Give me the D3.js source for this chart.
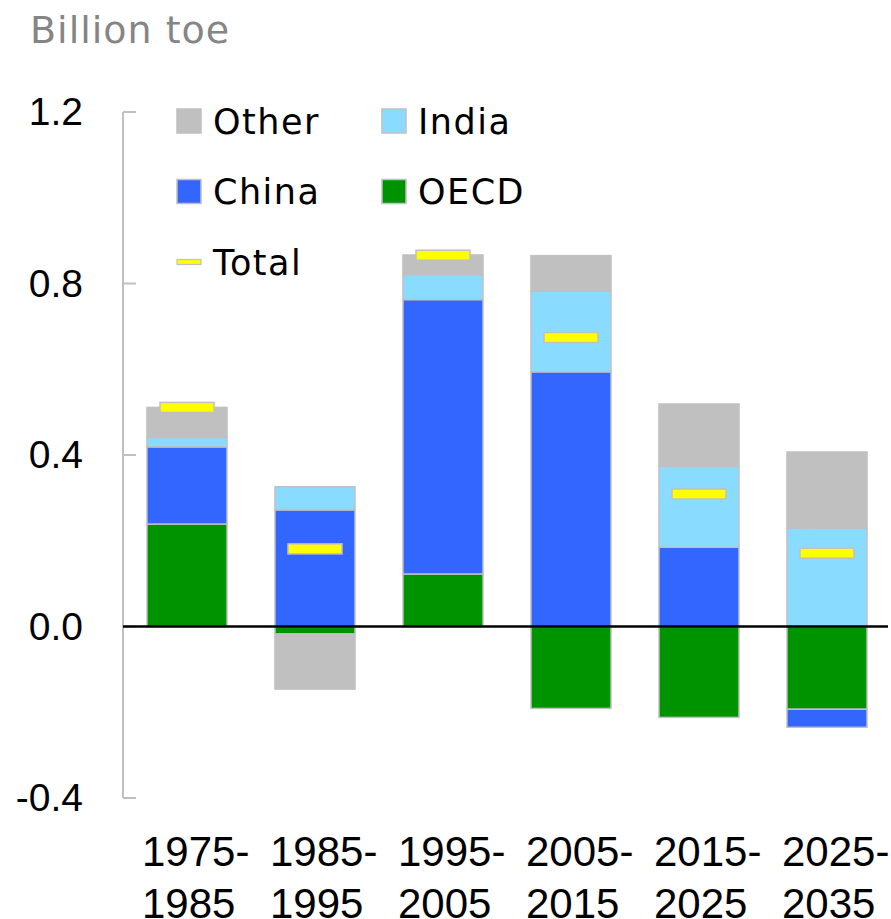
<!DOCTYPE html>
<html>
<head>
<meta charset="utf-8">
<script src="https://cdn.jsdelivr.net/npm/d3@7"></script>
<style>
body { margin: 0; background: #fff; }
</style>
</head>
<body>
<div id="chart"></div>
<script>
var width = 891;
var height = 919;

// data (billion toe)
var periods = ["1975-1985", "1985-1995", "1995-2005", "2005-2015", "2015-2025", "2025-2035"];
var oecd  = [0.239, -0.0175, 0.1225, -0.191, -0.212, -0.193];
var china = [0.180, 0.272, 0.640, 0.594, 0.185, -0.042];
var india = [0.022, 0.054, 0.058, 0.1885, 0.189, 0.230];
var other = [0.070, -0.1285, 0.046, 0.0825, 0.145, 0.177];
var total = [0.511, 0.181, 0.866, 0.674, 0.309, 0.171];
var yTicks = [-0.4, 0, 0.4, 0.8, 1.2];

var keys = ["OECD", "China", "India", "Other"];
var colors = {OECD: "#009300", China: "#3366ff", India: "#89dcff", Other: "#c0c0c0"};

var rows = periods.map(function(p, i) {
	return {period: p, OECD: oecd[i], China: china[i], India: india[i], Other: other[i], Total: total[i]};
});

var svg = d3.select("#chart").append("svg")
	.attr("width", width)
	.attr("height", height);

var x = d3.scaleBand()
	.domain(periods)
	.range([123, 891])
	.paddingInner(0.375)
	.paddingOuter(0.1875);

var y = d3.scaleLinear()
	.domain([-0.4, 1.2])
	.range([798, 112]);

// unit title
svg.append("text")
	.attr("x", 30)
	.attr("y", 43)
	.style("font-family", "DejaVu Sans")
	.style("font-size", "38px")
	.style("letter-spacing", "1px")
	.style("fill", "#858585")
	.text("Billion toe");

// y axis: grey line with inward ticks
svg.append("line")
	.attr("x1", 123).attr("x2", 123)
	.attr("y1", y(1.2)).attr("y2", y(-0.4))
	.attr("stroke", "#c0c0c0").attr("stroke-width", 2);

svg.selectAll(".ytick")
	.data(yTicks)
	.enter().append("line")
	.attr("class", "ytick")
	.attr("x1", 123).attr("x2", 136)
	.attr("y1", function(d) { return y(d); })
	.attr("y2", function(d) { return y(d); })
	.attr("stroke", "#c0c0c0").attr("stroke-width", 2);

svg.selectAll(".ylabel")
	.data(yTicks)
	.enter().append("text")
	.attr("class", "ylabel")
	.attr("x", 83)
	.attr("y", function(d) { return y(d) + 13; })
	.attr("text-anchor", "end")
	.style("font-family", "Liberation Sans, Arial")
	.style("font-size", "39px")
	.style("fill", "#000")
	.text(function(d) { return d.toFixed(1); });

// stacked bars
var series = d3.stack()
	.keys(keys)
	.offset(d3.stackOffsetDiverging)(rows);

svg.append("g")
	.selectAll("g")
	.data(series)
	.enter().append("g")
	.attr("fill", function(d) { return colors[d.key]; })
	.selectAll("rect")
	.data(function(d) { return d; })
	.enter().append("rect")
	.attr("x", function(d) { return x(d.data.period); })
	.attr("width", x.bandwidth())
	.attr("y", function(d) { return y(Math.max(d[0], d[1])); })
	.attr("height", function(d) { return Math.abs(y(d[0]) - y(d[1])); })
	.attr("stroke", "#c0c0c0")
	.attr("stroke-width", 1.5);

// zero line
svg.append("line")
	.attr("x1", 123).attr("x2", 888)
	.attr("y1", y(0)).attr("y2", y(0))
	.attr("stroke", "#000").attr("stroke-width", 2.5);

// total markers
svg.selectAll(".total")
	.data(rows)
	.enter().append("rect")
	.attr("class", "total")
	.attr("x", function(d) { return x(d.period) + 13; })
	.attr("width", x.bandwidth() - 26)
	.attr("y", function(d) { return y(d.Total) - 5; })
	.attr("height", 10)
	.attr("fill", "#ffff00")
	.attr("stroke", "#c0c0c0")
	.attr("stroke-width", 1.5);

// x labels, two lines
var xl = svg.selectAll(".xlabel")
	.data(periods)
	.enter().append("text")
	.attr("class", "xlabel")
	.attr("x", function(d) { return x(d) - 5; })
	.attr("y", 866)
	.style("font-family", "Liberation Sans, Arial")
	.style("font-size", "42px")
	.style("fill", "#000");
xl.append("tspan")
	.attr("x", function(d) { return x(d) - 5; })
	.text(function(d) { return d.split("-")[0] + "-"; });
xl.append("tspan")
	.attr("x", function(d) { return x(d) - 5; })
	.attr("dy", 52)
	.text(function(d) { return d.split("-")[1]; });

// legend
var legendItems = [
	{name: "Other", col: 0, row: 0},
	{name: "India", col: 1, row: 0},
	{name: "China", col: 0, row: 1},
	{name: "OECD", col: 1, row: 1},
	{name: "Total", col: 0, row: 2}
];

var legend = svg.append("g").attr("class", "legend");
var lg = legend.selectAll("g")
	.data(legendItems)
	.enter().append("g")
	.attr("transform", function(d) {
		return "translate(" + (177 + d.col * 205) + "," + (121 + d.row * 70.5) + ")";
	});

lg.filter(function(d) { return d.name != "Total"; })
	.append("rect")
	.attr("x", 0).attr("y", -12)
	.attr("width", 24).attr("height", 24)
	.attr("fill", function(d) { return colors[d.name]; })
	.attr("stroke", "#c0c0c0")
	.attr("stroke-width", 1.5);

lg.filter(function(d) { return d.name == "Total"; })
	.append("rect")
	.attr("x", 0).attr("y", -2.5)
	.attr("width", 24).attr("height", 5)
	.attr("fill", "#ffff00")
	.attr("stroke", "#c0c0c0")
	.attr("stroke-width", 1.2);

lg.append("text")
	.attr("x", 36)
	.attr("y", 12.5)
	.style("font-family", "DejaVu Sans")
	.style("font-size", "35px")
	.style("letter-spacing", "1.5px")
	.style("fill", "#000")
	.text(function(d) { return d.name; });
</script>
</body>
</html>
